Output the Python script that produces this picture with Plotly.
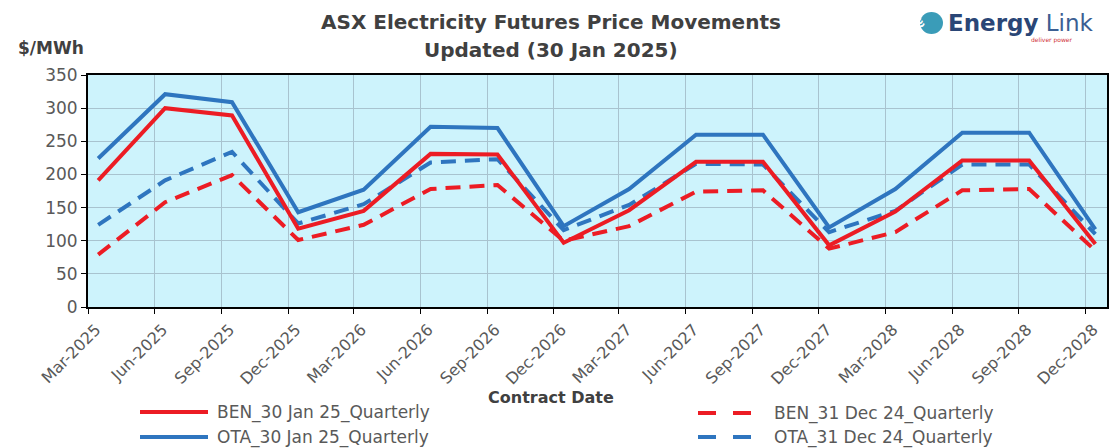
import plotly.graph_objects as go

# contract quarters (points plotted mid-month, ticks on the 1st)
CONTRACTS = ["2025-03", "2025-06", "2025-09", "2025-12",
             "2026-03", "2026-06", "2026-09", "2026-12",
             "2027-03", "2027-06", "2027-09", "2027-12",
             "2028-03", "2028-06", "2028-09", "2028-12"]
TICK_LABELS = ["Mar-2025", "Jun-2025", "Sep-2025", "Dec-2025",
               "Mar-2026", "Jun-2026", "Sep-2026", "Dec-2026",
               "Mar-2027", "Jun-2027", "Sep-2027", "Dec-2027",
               "Mar-2028", "Jun-2028", "Sep-2028", "Dec-2028"]

BEN_30JAN = [191, 300, 289, 118, 145, 231, 230, 97, 146, 219, 219, 93, 144, 221, 221, 95]
OTA_30JAN = [224, 321, 309, 143, 177, 272, 270, 122, 178, 260, 260, 120, 178, 263, 263, 117]
BEN_31DEC = [79, 158, 199, 101, 124, 178, 184, 100, 122, 174, 176, 88, 113, 176, 178, 85]
OTA_31DEC = [124, 191, 234, 126, 155, 218, 223, 116, 154, 216, 215, 113, 145, 215, 215, 110]

RED = "#ec1c24"
BLUE = "#2e75bf"
TEXT = "#595959"
DARK = "#404040"
FONT = "DejaVu Sans, sans-serif"

W, H = 1119, 448
L, R, T, B = 88, 12, 75, 141


def px(x):
    return (x - L) / (W - L - R)


def py(y):
    return (H - B - y) / (H - T - B)


x_pts = [c + "-15" for c in CONTRACTS]
x_ticks = [c + "-01" for c in CONTRACTS]

DASH = "15px,9px"
series = [
    ("BEN_31 Dec 24_Quarterly", BEN_31DEC, RED, DASH),
    ("OTA_31 Dec 24_Quarterly", OTA_31DEC, BLUE, DASH),
    ("BEN_30 Jan 25_Quarterly", BEN_30JAN, RED, "solid"),
    ("OTA_30 Jan 25_Quarterly", OTA_30JAN, BLUE, "solid"),
]

fig = go.Figure()
for name, ys, col, dash in series:
    fig.add_trace(go.Scatter(
        x=x_pts, y=ys, name=name, mode="lines",
        line=dict(color=col, width=4, dash=dash), showlegend=False,
    ))

# hand-made legend (2 columns x 2 rows, long samples like the original)
legend_items = [
    ("BEN_30 Jan 25_Quarterly", RED, "solid", 140, 208, 215, 412),
    ("OTA_30 Jan 25_Quarterly", BLUE, "solid", 140, 208, 215, 437),
    ("BEN_31 Dec 24_Quarterly", RED, "18px,17px", 698, 752, 772, 413),
    ("OTA_31 Dec 24_Quarterly", BLUE, "18px,17px", 698, 752, 772, 437),
]
shapes = []
annotations = []
for name, col, dash, x0, x1, xt, yy in legend_items:
    shapes.append(dict(type="line", xref="paper", yref="paper",
                       x0=px(x0), x1=px(x1), y0=py(yy), y1=py(yy),
                       line=dict(color=col, width=4, dash=dash)))
    annotations.append(dict(text=name, xref="paper", yref="paper", x=px(xt), y=py(yy),
                            xanchor="left", yanchor="middle", showarrow=False,
                            font=dict(family=FONT, size=17, color=TEXT)))

annotations += [
    dict(text="<b>ASX Electricity Futures Price Movements</b>", xref="paper", yref="paper",
         x=px(551), y=py(22), yanchor="middle", showarrow=False,
         font=dict(family=FONT, size=20, color=DARK)),
    dict(text="<b>Updated (30 Jan 2025)</b>", xref="paper", yref="paper",
         x=px(551), y=py(50), yanchor="middle", showarrow=False,
         font=dict(family=FONT, size=20, color=DARK)),
    dict(text="<b>$/MWh</b>", xref="paper", yref="paper", x=px(16), xanchor="left",
         y=py(48), yanchor="middle", showarrow=False,
         font=dict(family=FONT, size=17, color=DARK)),
    dict(text="<b>Contract Date</b>", xref="paper", yref="paper", x=px(551),
         y=py(397), yanchor="middle", showarrow=False,
         font=dict(family=FONT, size=16, color=DARK)),
    dict(text="<b>Energy</b> <span style='color:#3b5f93'>Link</span>", xref="paper", yref="paper",
         x=px(946), xanchor="left", y=py(23), yanchor="middle", showarrow=False,
         font=dict(family=FONT, size=23, color="#2a4676")),
    dict(text="deliver power", xref="paper", yref="paper", x=px(1075),
         y=py(40), yanchor="middle", showarrow=False,
         font=dict(family=FONT, size=6, color="#d0303a")),
    dict(text="<b>≋</b>", xref="paper", yref="paper", x=px(931.5), y=py(23),
         yanchor="middle", showarrow=False, textangle=-30,
         font=dict(family=FONT, size=15, color="white")),
]
shapes.append(dict(type="circle", xref="paper", yref="paper",
                   x0=px(920), x1=px(943), y0=py(34), y1=py(12),
                   fillcolor="#3a9cb8", line=dict(width=0)))

fig.update_layout(
    width=W, height=H,
    paper_bgcolor="white",
    plot_bgcolor="#cdf3fc",
    margin=dict(l=L, r=R, t=T, b=B, autoexpand=False),
    font=dict(family=FONT, color=TEXT, size=17),
    showlegend=False,
    xaxis=dict(
        type="date",
        range=["2025-03-01", "2028-12-31"],
        tickvals=x_ticks, ticktext=TICK_LABELS, tickangle=-45,
        tickfont=dict(size=16, color=TEXT),
        ticklabelshift=8,
        ticks="outside", ticklen=5, tickcolor="black",
        showgrid=True, gridcolor="#a8c3cf", gridwidth=1,
        showline=True, linecolor="black", linewidth=2, mirror=True,
        zeroline=False,
    ),
    yaxis=dict(
        range=[0, 350], dtick=50,
        tickfont=dict(size=17, color=TEXT),
        ticks="outside", ticklen=5, tickcolor="black",
        showgrid=True, gridcolor="#a8c3cf", gridwidth=1,
        showline=True, linecolor="black", linewidth=2, mirror=True,
        zeroline=False,
    ),
    annotations=annotations,
    shapes=shapes,
)

# the page's default body margin would push the figure 8px right/down
fig.write_html("out.html", config={"displayModeBar": False},
               post_script="document.body.style.margin='0';")
